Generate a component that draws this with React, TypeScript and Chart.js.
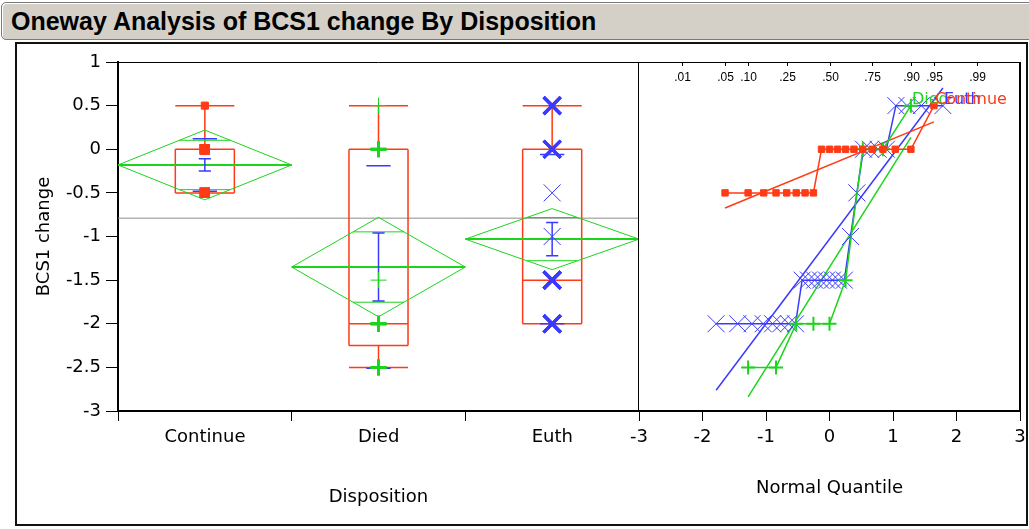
import React, { useEffect, useRef } from 'react';
import { Chart, registerables } from 'chart.js';

Chart.register(...registerables);

// ---------------- data ----------------
const groups = ['Continue', 'Died', 'Euth'];

const continueValues = [-0.5, -0.5, -0.5, -0.5, -0.5, -0.5, -0.5, -0.5, 0, 0, 0, 0, 0, 0, 0, 0, 0, 0, 0.5];
const continueQuantiles = [-1.645, -1.282, -1.036, -0.842, -0.674, -0.524, -0.385, -0.253, -0.126, 0, 0.126, 0.253, 0.385, 0.524, 0.674, 0.842, 1.036, 1.282, 1.645];

const diedValues = [-2.5, -2.5, -2, -2, -2, -1.5, 0, 0, 0.5];
const diedQuantiles = [-1.282, -0.842, -0.524, -0.253, 0, 0.253, 0.524, 0.842, 1.282];

const euthValues = [-2, -2, -2, -2, -2, -2, -2, -2, -1.5, -1.5, -1.5, -1.5, -1.5, -1.5, -1.5, -1.5, -1, -0.5, 0, 0, 0, 0, 0.5, 0.5, 0.5, 0.5];
const euthQuantiles = [-1.786, -1.446, -1.221, -1.045, -0.896, -0.765, -0.645, -0.535, -0.431, -0.331, -0.234, -0.14, -0.046, 0.046, 0.14, 0.234, 0.331, 0.431, 0.535, 0.645, 0.765, 0.896, 1.045, 1.221, 1.446, 1.786];

const groupMeans = [-0.18, -1.35, -1.03];
const groupStdDevs = [0.3, 1.16, 0.97];
const groupStdErrs = [0.07, 0.39, 0.19];
const diamondHalfHeights = [0.4, 0.57, 0.35];
const boxQ1 = [-0.5, -2.25, -2];
const boxMedian = [0, -2, -1.5];
const boxQ3 = [0, 0, 0];
const whiskerLow = [-0.5, -2.5, -2];
const whiskerHigh = [0.5, 0.5, 0.5];
const grandMean = -0.79;

const probLabels = ['.01', '.05', '.10', '.25', '.50', '.75', '.90', '.95', '.99'];
const probQuantiles = [-2.326, -1.645, -1.282, -0.674, 0, 0.674, 1.282, 1.645, 2.326];

// ---------------- styles ----------------
const RED = '#ff3a14';
const GREEN = '#1cd41c';
const BLUE = '#3a3aff';
const groupColors = [RED, GREEN, BLUE];
const groupValues = [continueValues, diedValues, euthValues];
const groupQuantiles = [continueQuantiles, diedQuantiles, euthQuantiles];
const pointStyles = ['rect', 'cross', 'crossRot'];
const leftRadius = [5, 8, 12];
const rightRadius = [4.5, 7, 12];
const FONT = 'DejaVu Sans';

type Pt = { x: number; y: number | null };

function segs(list: number[][]): Pt[] {
  const out: Pt[] = [];
  list.forEach(([x1, y1, x2, y2], i) => {
    if (i) out.push({ x: x1, y: null });
    out.push({ x: x1, y: y1 }, { x: x2, y: y2 });
  });
  return out;
}

function lineDs(data: Pt[], color: string, width: number, order: number) {
  return {
    data,
    showLine: true,
    borderColor: color,
    backgroundColor: color,
    borderWidth: width,
    pointRadius: 0,
    pointHoverRadius: 0,
    spanGaps: false,
    tension: 0,
    fill: false,
    order,
  };
}

const framePlugin = (isLeft: boolean) => ({
  id: 'frame',
  afterDraw(chart: any) {
    const { ctx, chartArea } = chart;
    ctx.save();
    ctx.strokeStyle = '#000';
    ctx.lineWidth = 1;
    ctx.beginPath();
    ctx.moveTo(chartArea.left, chartArea.top + 0.5);
    ctx.lineTo(chartArea.right, chartArea.top + 0.5);
    if (isLeft) {
      ctx.moveTo(chartArea.right - 0.5, chartArea.top);
      ctx.lineTo(chartArea.right - 0.5, chartArea.bottom);
    }
    ctx.stroke();
    if (!isLeft) {
      ctx.lineWidth = 2;
      ctx.beginPath();
      ctx.moveTo(chartArea.right, chartArea.top);
      ctx.lineTo(chartArea.right, chartArea.bottom + 1);
      ctx.stroke();
    }
    ctx.restore();
  },
});

function leftConfig(): any {
  const datasets: any[] = [];
  datasets.push(lineDs(segs([[0, grandMean, 3, grandMean]]), '#8c8c8c', 1, 10));
  groups.forEach((_, g) => {
    const c = g + 0.5;
    const bw = 0.17;
    const m = groupMeans[g];
    const h = diamondHalfHeights[g];
    // box plot
    datasets.push(
      lineDs(
        segs([
          [c - bw, boxQ1[g], c + bw, boxQ1[g]],
          [c + bw, boxQ1[g], c + bw, boxQ3[g]],
          [c + bw, boxQ3[g], c - bw, boxQ3[g]],
          [c - bw, boxQ3[g], c - bw, boxQ1[g]],
          [c - bw, boxMedian[g], c + bw, boxMedian[g]],
          [c, boxQ3[g], c, whiskerHigh[g]],
          [c - bw, whiskerHigh[g], c + bw, whiskerHigh[g]],
          [c, boxQ1[g], c, whiskerLow[g]],
          [c - bw, whiskerLow[g], c + bw, whiskerLow[g]],
        ]),
        RED,
        1.5,
        8
      )
    );
    // means diamond
    const k = 0.7071;
    const ow = 0.5 * (1 - k);
    datasets.push(
      lineDs(
        segs([
          [c - 0.5, m, c, m + h],
          [c, m + h, c + 0.5, m],
          [c + 0.5, m, c, m - h],
          [c, m - h, c - 0.5, m],
          [c - ow, m + h * k, c + ow, m + h * k],
          [c - ow, m - h * k, c + ow, m - h * k],
        ]),
        GREEN,
        1,
        6
      )
    );
    datasets.push(lineDs(segs([[c - 0.5, m, c + 0.5, m]]), GREEN, 2, 6));
    // blue error bar and std dev lines
    const se = groupStdErrs[g];
    const sd = groupStdDevs[g];
    datasets.push(
      lineDs(
        segs([
          [c, m - se, c, m + se],
          [c - 0.035, m + se, c + 0.035, m + se],
          [c - 0.035, m - se, c + 0.035, m - se],
          [c - 0.07, m + sd, c + 0.07, m + sd],
          [c - 0.07, m - sd, c + 0.07, m - sd],
        ]),
        BLUE,
        1.5,
        4
      )
    );
    // data points
    const vals = groupValues[g];
    datasets.push({
      data: vals.map((v) => ({ x: c, y: v })),
      showLine: false,
      pointStyle: pointStyles[g],
      pointRadius: leftRadius[g],
      pointHoverRadius: leftRadius[g],
      pointBorderColor: groupColors[g],
      pointBackgroundColor: groupColors[g],
      pointBorderWidth: vals.map((v) => (vals.filter((w) => w === v).length > 1 ? 3 : 1)),
      order: 1,
    });
  });

  return {
    type: 'scatter',
    data: { datasets },
    options: {
      responsive: false,
      animation: false,
      devicePixelRatio: 1,
      layout: { padding: { top: 18, left: 0, right: 0, bottom: 0 } },
      plugins: { legend: { display: false }, tooltip: { enabled: false } },
      scales: {
        x: {
          type: 'linear',
          min: 0,
          max: 3,
          afterFit: (s: any) => {
            s.height = 113;
          },
          ticks: {
            stepSize: 1,
            autoSkip: false,
            maxRotation: 0,
            labelOffset: 87,
            padding: 6,
            color: '#000',
            font: { family: FONT, size: 18 },
            callback: (v: any) => groups[v as number] ?? '',
          },
          grid: { drawOnChartArea: false, drawTicks: true, tickLength: 10, color: '#000' },
          border: { display: true, color: '#000', width: 2 },
          title: {
            display: true,
            text: 'Disposition',
            color: '#000',
            font: { family: FONT, size: 18 },
            padding: { top: 0, bottom: 16 },
          },
        },
        y: {
          type: 'linear',
          min: -3,
          max: 1,
          afterFit: (s: any) => {
            s.width = 101;
          },
          ticks: {
            stepSize: 0.5,
            padding: 5,
            color: '#000',
            font: { family: FONT, size: 18 },
            callback: (v: any) => String(v),
          },
          grid: { drawOnChartArea: false, drawTicks: true, tickLength: 12, color: '#000' },
          border: { display: true, color: '#000', width: 2 },
          title: {
            display: true,
            text: 'BCS1 change',
            color: '#000',
            font: { family: FONT, size: 18 },
            padding: { top: 17, bottom: 0 },
          },
        },
      },
    },
    plugins: [framePlugin(true)],
  };
}

function rightConfig(): any {
  const datasets: any[] = [];
  groups.forEach((_, g) => {
    const vals = groupValues[g];
    const qs = groupQuantiles[g];
    datasets.push({
      data: vals.map((v, i) => ({ x: qs[i], y: v })),
      showLine: true,
      borderColor: groupColors[g],
      borderWidth: 1.5,
      tension: 0,
      pointStyle: pointStyles[g],
      pointRadius: rightRadius[g],
      pointHoverRadius: rightRadius[g],
      pointBorderColor: groupColors[g],
      pointBackgroundColor: groupColors[g],
      pointBorderWidth: g === 1 ? 2 : 1,
      order: 2,
    });
    const q0 = qs[0];
    const qn = qs[qs.length - 1];
    datasets.push(
      lineDs(
        [
          { x: q0, y: groupMeans[g] + groupStdDevs[g] * q0 },
          { x: qn, y: groupMeans[g] + groupStdDevs[g] * qn },
        ],
        groupColors[g],
        1.5,
        3
      )
    );
  });

  const overlay = {
    id: 'overlay',
    afterDatasetsDraw(chart: any) {
      const { ctx, chartArea, scales } = chart;
      const x = scales.x;
      const y = scales.y;
      ctx.save();
      ctx.strokeStyle = '#000';
      ctx.fillStyle = '#000';
      ctx.lineWidth = 1;
      ctx.font = '12px "Liberation Sans"';
      ctx.textAlign = 'center';
      ctx.textBaseline = 'middle';
      probQuantiles.forEach((q, i) => {
        const px = Math.round(x.getPixelForValue(q)) + 0.5;
        ctx.beginPath();
        ctx.moveTo(px, chartArea.top);
        ctx.lineTo(px, chartArea.top + 4);
        ctx.stroke();
        ctx.fillText(probLabels[i], px, chartArea.top + 16);
      });
      ctx.font = `16px "${FONT}"`;
      ctx.textAlign = 'left';
      ctx.textBaseline = 'middle';
      [1, 2, 0].forEach((g) => {
        const vals = groupValues[g];
        const qs = groupQuantiles[g];
        const px = x.getPixelForValue(qs[qs.length - 1]);
        const py = y.getPixelForValue(vals[vals.length - 1]);
        ctx.fillStyle = groupColors[g];
        ctx.fillText(groups[g], px + 1, py - 6);
      });
      ctx.restore();
    },
  };

  return {
    type: 'scatter',
    data: { datasets },
    options: {
      responsive: false,
      animation: false,
      devicePixelRatio: 1,
      layout: { padding: { top: 18, left: 19, right: 0, bottom: 0 } },
      plugins: { legend: { display: false }, tooltip: { enabled: false } },
      scales: {
        x: {
          type: 'linear',
          min: -3,
          max: 3,
          afterFit: (s: any) => {
            s.height = 113;
          },
          ticks: {
            stepSize: 1,
            autoSkip: false,
            maxRotation: 0,
            padding: 6,
            color: '#000',
            font: { family: FONT, size: 18 },
            callback: (v: any) => String(v),
          },
          grid: { drawOnChartArea: false, drawTicks: true, tickLength: 10, color: '#000' },
          border: { display: true, color: '#000', width: 2 },
          title: {
            display: true,
            text: 'Normal Quantile',
            color: '#000',
            font: { family: FONT, size: 18 },
            padding: { top: 0, bottom: 25 },
          },
        },
        y: { type: 'linear', min: -3, max: 1, display: false },
      },
    },
    plugins: [overlay, framePlugin(false)],
  };
}

export default function App() {
  const leftRef = useRef<HTMLCanvasElement>(null);
  const rightRef = useRef<HTMLCanvasElement>(null);

  useEffect(() => {
    const left = new Chart(leftRef.current as HTMLCanvasElement, leftConfig());
    const right = new Chart(rightRef.current as HTMLCanvasElement, rightConfig());
    return () => {
      left.destroy();
      right.destroy();
    };
  }, []);

  return (
    <div style={{ position: 'absolute', left: 0, top: 0, width: 1029, height: 529, background: '#fff', overflow: 'hidden' }}>
      <div
        style={{
          position: 'absolute',
          left: 1,
          top: 2,
          width: 1040,
          height: 38,
          background: '#d4d0c8',
          border: '1px solid #7a7a7a',
          borderRadius: 5,
          boxShadow: 'inset 1px 1px 0 #ffffff',
          boxSizing: 'border-box',
          fontFamily: '"Liberation Sans", Arial, sans-serif',
          fontWeight: 'bold',
          fontSize: 25,
          lineHeight: '36px',
          paddingLeft: 9,
          color: '#000',
          whiteSpace: 'nowrap',
        }}
      >
        Oneway Analysis of BCS1 change By Disposition
      </div>
      <div
        style={{
          position: 'absolute',
          left: 15,
          top: 42,
          width: 1013,
          height: 484,
          border: '2px solid #111',
          boxSizing: 'border-box',
        }}
      />
      <canvas ref={leftRef} width={637} height={480} style={{ position: 'absolute', left: 17, top: 44 }} />
      <canvas ref={rightRef} width={413} height={480} style={{ position: 'absolute', left: 620, top: 44 }} />
    </div>
  );
}
